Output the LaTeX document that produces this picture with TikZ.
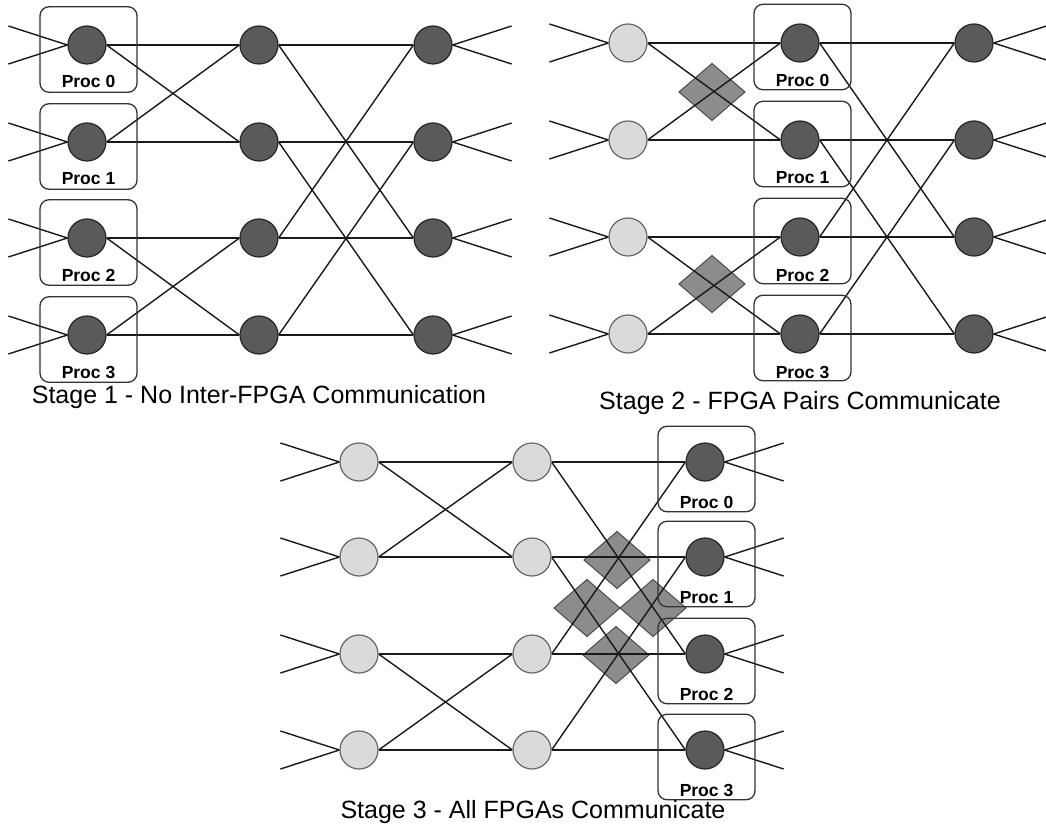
\documentclass[tikz,border=0pt]{standalone}
\usepackage{fontspec}
\setmainfont{Liberation Sans}
\pgfdeclarelayer{paper}
\pgfdeclarelayer{diam}
\pgfdeclarelayer{wires}
\pgfsetlayers{paper,diam,wires,main}

\definecolor{pedark}{HTML}{5A5A5A}
\definecolor{pelight}{HTML}{DADADA}
\definecolor{xchgfill}{HTML}{8C8C8C}

\tikzset{
  pe/.style={circle, minimum size=38pt, inner sep=0pt, line width=1.2pt},
  busy/.style={pe, fill=pedark, draw=black!85},
  idle/.style={pe, fill=pelight, draw=black!60},
  wire/.style={line width=1.4pt, draw=black!90},
  procbox/.style={draw=black!80, line width=1.3pt, rounded corners=9pt,
    minimum width=97pt, minimum height=85.5pt, inner sep=0pt},
  proclabel/.style={font=\fontsize{17.5}{17.5}\selectfont\bfseries, anchor=base, inner sep=0pt},
  caption/.style={font=\fontsize{25}{25}\selectfont, anchor=base, inner sep=0pt},
  xchg/.style={draw=black!70, fill=xchgfill, line width=1pt, line join=miter},
}
% exchange marker: a diamond 66 wide and 57 high around a named centre
\newcommand\xchgmark[1]{%
  \draw[xchg] (#1) ++(-33,0) -- ++(33,-28.5) -- ++(33,28.5) -- ++(-33,28.5) -- cycle;}

\begin{document}
\begin{tikzpicture}[x=1pt,y=-1pt]
\begin{pgfonlayer}{paper}
  \fill[white] (0,0) rectangle (1046,826);
\end{pgfonlayer}
\useasboundingbox (0,0) rectangle (1046,826);

% Stage 1: every processing element is local
\foreach \r/\y in {0/45,1/142,2/238,3/335}{
  \node[busy] (a0\r) at (87,\y) {};
  \node[busy] (a1\r) at (259,\y) {};
  \node[busy] (a2\r) at (433,\y) {};
  \node[procbox] (abox\r) at (88.5,\y+4.5) {};
  \node[proclabel] (alab\r) at (88.5,\y+43) {Proc \r};
}
\node[caption] (acap) at (259,403) {Stage 1 - No Inter-FPGA Communication};

% Stage 2: neighbouring FPGAs exchange data
\foreach \r/\y in {0/43,1/140,2/237,3/334}{
  \node[idle] (b0\r) at (628,\y) {};
  \node[busy] (b1\r) at (800,\y) {};
  \node[busy] (b2\r) at (974,\y) {};
  \node[procbox] (bbox\r) at (802.5,\y+4) {};
  \node[proclabel] (blab\r) at (802.5,\y+44) {Proc \r};
}
\node[caption] (bcap) at (800,409) {Stage 2 - FPGA Pairs Communicate};

% Stage 3: all FPGAs exchange data
\foreach \r/\y in {0/462,1/557,2/654,3/750}{
  \node[idle] (c0\r) at (359,\y) {};
  \node[idle] (c1\r) at (532,\y) {};
  \node[busy] (c2\r) at (705,\y) {};
  \node[procbox] (cbox\r) at (706.5,\y+7) {};
  \node[proclabel] (clab\r) at (706.5,\y+46) {Proc \r};
}
\node[caption] (ccap) at (533,818) {Stage 3 - All FPGAs Communicate};

% exchange markers behind the wires
\coordinate (bx0) at (712,92);
\coordinate (bx1) at (712,284);
\coordinate (cx0) at (617,560);
\coordinate (cx1) at (587,608);
\coordinate (cx2) at (653,608);
\coordinate (cx3) at (616,655);
\begin{pgfonlayer}{diam}
  \foreach \m in {bx0,bx1,cx0,cx1,cx2,cx3} \xchgmark{\m};
\end{pgfonlayer}

% butterfly wiring of each stage
\begin{pgfonlayer}{wires}
\foreach \s in {a,b,c}{
  \foreach \r in {0,...,3}{
    \draw[wire] (\s0\r.east) -- (\s1\r.west);
    \draw[wire] (\s1\r.east) -- (\s2\r.west);
    \path (\s0\r.west) ++(-59,-19) coordinate (\s-in\r-u) ++(0,38) coordinate (\s-in\r-d);
    \path (\s2\r.east) ++(59,-19) coordinate (\s-out\r-u) ++(0,38) coordinate (\s-out\r-d);
    \draw[wire] (\s-in\r-u) -- (\s0\r.west) -- (\s-in\r-d);
    \draw[wire] (\s-out\r-u) -- (\s2\r.east) -- (\s-out\r-d);
  }
  \foreach \i/\j in {0/1,1/0,2/3,3/2}
    \draw[wire] (\s0\i.east) -- (\s1\j.west);
  \foreach \i/\j in {0/2,2/0,1/3,3/1}
    \draw[wire] (\s1\i.east) -- (\s2\j.west);
}
\end{pgfonlayer}
\end{tikzpicture}
\end{document}
